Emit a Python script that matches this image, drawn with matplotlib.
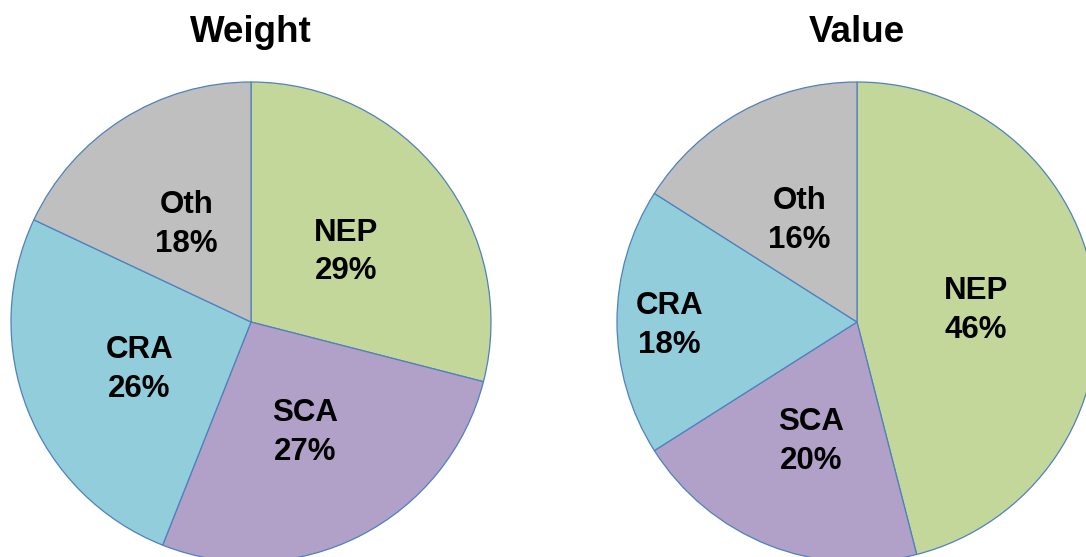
import matplotlib
matplotlib.use("Agg")
import matplotlib.pyplot as plt

categories = ["NEP", "SCA", "CRA", "Oth"]
weight_pct = [29, 27, 26, 18]
value_pct = [46, 20, 18, 16]
titles = ["Weight", "Value"]
colors = ["#C4D79B", "#B1A0C7", "#92CDDC", "#BFBFBF"]

plt.rcParams['font.family'] = ['Liberation Sans', 'DejaVu Sans']

fig = plt.figure(figsize=(10.86, 5.57), dpi=100)
W, H = 1086, 557
R = 240
centers = [(251, 322), (857, 322)]
# per-pie label radial distance overrides (fraction of radius)
label_dist = [[0.5, 0.5, 0.5, 0.5], [0.5, 0.52, 0.78, 0.5]]

for (cx, cy), vals, title, ld in zip(centers, [weight_pct, value_pct], titles, label_dist):
    ax = fig.add_axes([(cx - R) / W, (H - cy - R) / H, 2 * R / W, 2 * R / H])
    labels = [f"{c}\n{v}%" for c, v in zip(categories, vals)]
    wedges, texts = ax.pie(vals, colors=colors, startangle=90, counterclock=False,
                           labels=labels, labeldistance=0.5,
                           wedgeprops=dict(edgecolor="#4F81BD", linewidth=0.9),
                           textprops=dict(fontsize=22.5, fontweight="bold", color="black",
                                          ha="center", va="center", linespacing=1.38))
    for t, d in zip(texts, ld):
        x, y = t.get_position()
        t.set_position((x * d / 0.5, y * d / 0.5 - 0.015))
    ax.set_xlim(-1, 1)
    ax.set_ylim(-1, 1)
    ax.set_aspect("equal")
    fig.text(cx / W, 1 - 42 / H, title, fontsize=26.5, fontweight="bold",
             ha="center", va="baseline")

fig.savefig("out.png", dpi=100)
